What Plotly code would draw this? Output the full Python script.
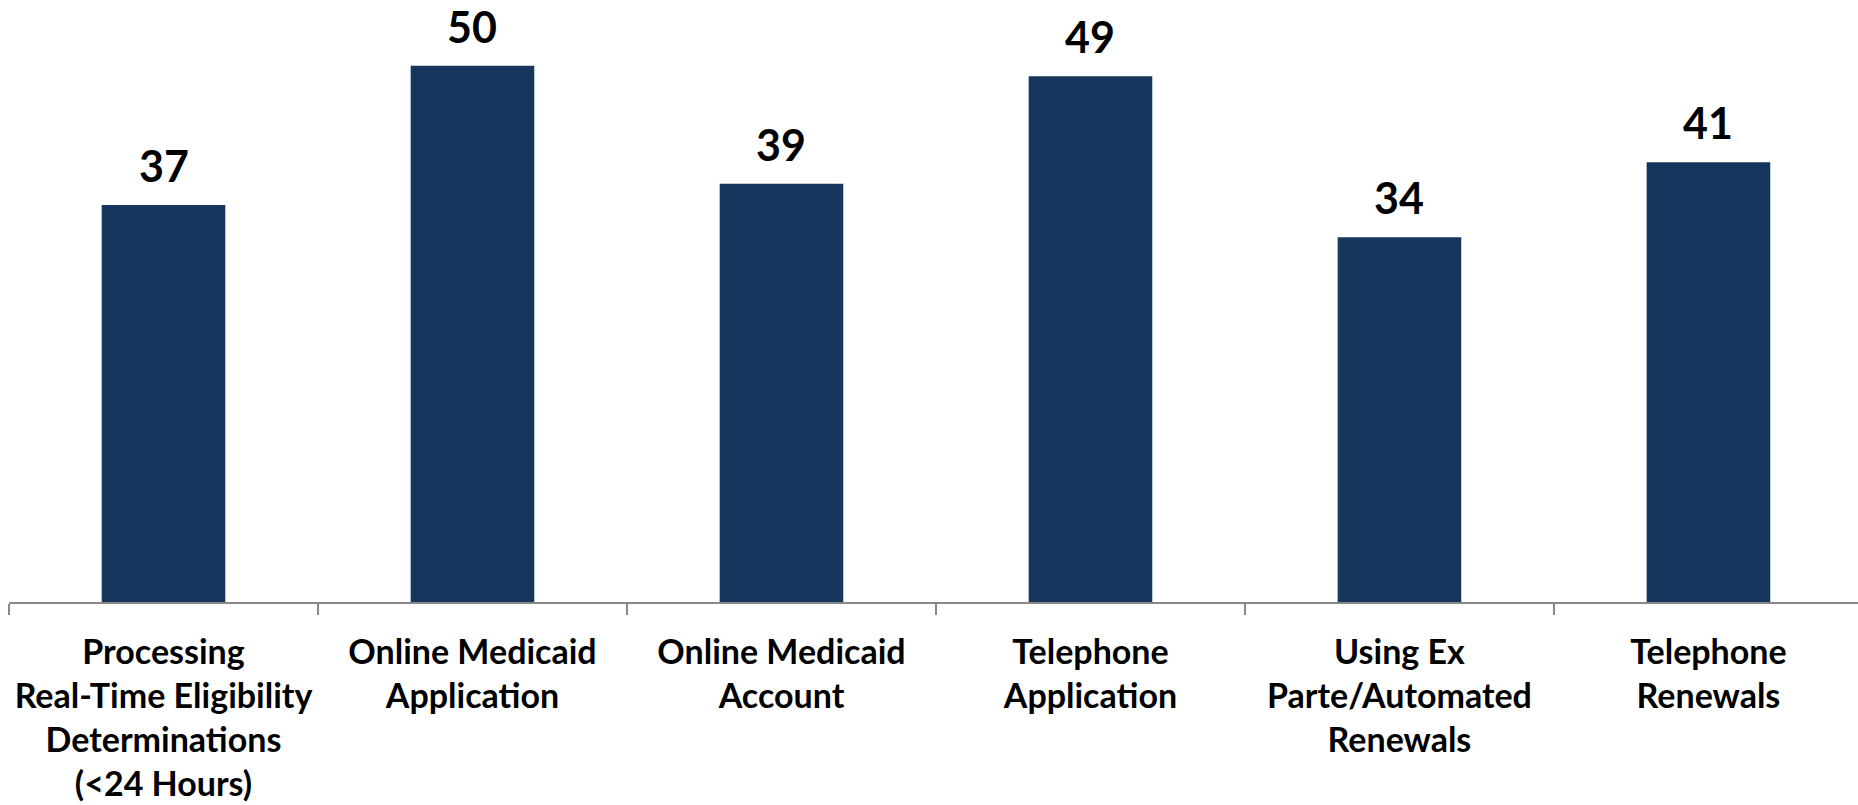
import plotly.graph_objects as go

# Categories (multi-line axis labels) and their values
categories = [
    "Processing<br>Real-Time Eligibility<br>Determinations<br>(<24 Hours)",
    "Online Medicaid<br>Application",
    "Online Medicaid<br>Account",
    "Telephone<br>Application",
    "Using Ex<br>Parte/Automated<br>Renewals",
    "Telephone<br>Renewals",
]
values = [37, 50, 39, 49, 34, 41]

BAR_COLOR = "#17365D"
AXIS_COLOR = "#888888"
FONT = "Lato"

fig = go.Figure()
fig.add_trace(go.Bar(
    x=categories,
    y=values,
    marker=dict(color=BAR_COLOR, line=dict(width=0)),
    width=0.4,
    hoverinfo="skip",
))

# Value labels above each bar
for cat, val in zip(categories, values):
    fig.add_annotation(
        x=cat, y=val, text=f"<b>{val}</b>",
        showarrow=False, yanchor="bottom", yshift=12,
        font=dict(family=FONT, size=43, color="#000000"),
    )

fig.update_layout(
    width=1858, height=805, autosize=False,
    margin=dict(l=9, r=0, t=12, b=203),
    paper_bgcolor="white", plot_bgcolor="white",
    showlegend=False,
    font=dict(family=FONT, color="#000000"),
)
fig.update_xaxes(
    type="category",
    range=[-0.5, 5.484],
    showline=True, linecolor=AXIS_COLOR, linewidth=2,
    ticks="outside", ticklen=11, tickwidth=2, tickcolor=AXIS_COLOR,
    tickson="boundaries",
    ticklabelstandoff=19,
    tickfont=dict(family=FONT, size=34, color="#000000", weight="bold"),
    showgrid=False, zeroline=False,
)
fig.update_yaxes(
    range=[0, 55], visible=False, showgrid=False, zeroline=False,
)

fig.write_html("out.html")
